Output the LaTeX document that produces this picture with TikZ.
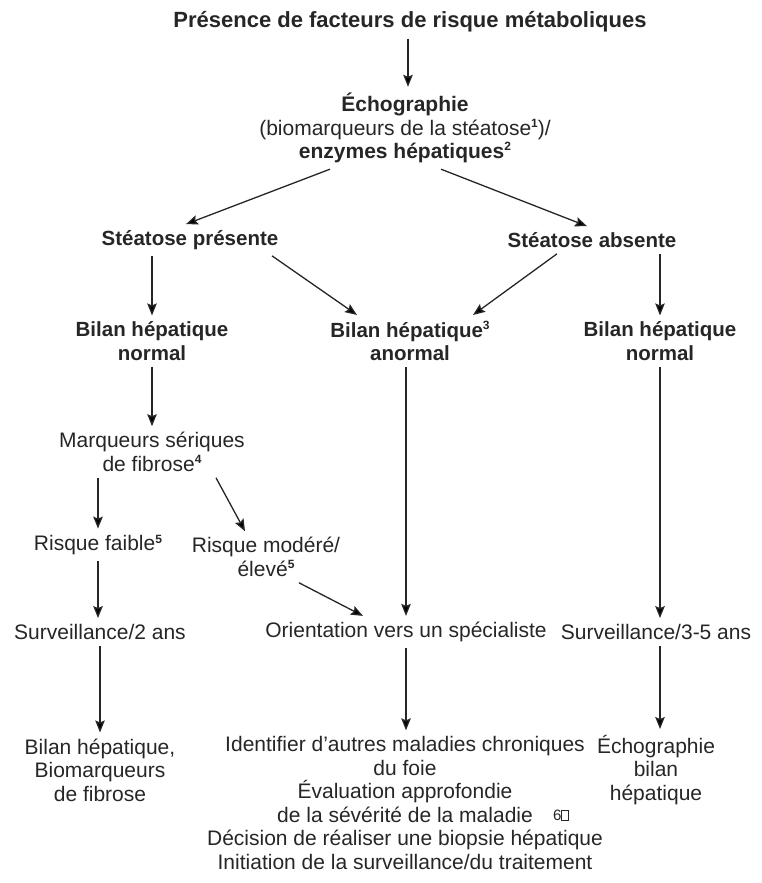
\documentclass[tikz,border=0pt]{standalone}
\usepackage{fontspec}
\setmainfont{Liberation Sans}
\usetikzlibrary{arrows.meta}
\newcommand\supr[1]{\raisebox{0.7ex}{\fontsize{12}{12}\selectfont\bfseries #1}}
\tikzset{
  txt/.style={align=center, inner xsep=1pt, inner ysep=6pt, font=\fontsize{21}{23.5}\selectfont, text=black!85},
  btxt/.style={txt, font=\fontsize{20.5}{23.5}\selectfont\bfseries},
  arr/.style={line width=1.3pt, draw=black!85, -{Stealth[length=12pt,width=9.5pt,inset=2pt]}}
}
\begin{document}
\begin{tikzpicture}[x=1pt,y=-1pt]
\useasboundingbox (0,0) rectangle (761,883);
\node[btxt, font=\fontsize{22}{24}\selectfont\bfseries] (title) at (410,22) {Présence de facteurs de risque métaboliques};
\node[txt] (echo) at (405,128) {\textbf{Échographie}\\(biomarqueurs de la stéatose\supr{1})/\\\textbf{enzymes hépatiques\supr{2}}};
\node[btxt] (sp) at (190,240) {Stéatose présente};
\node[btxt] (sa) at (592,240) {Stéatose absente};
\node[btxt] (bl1) at (152,341) {Bilan hépatique\\normal};
\node[btxt] (ba) at (410,341) {Bilan hépatique\supr{3}\\anormal};
\node[btxt] (bl2) at (660,341) {Bilan hépatique\\normal};
\node[txt] (marq) at (152,452) {Marqueurs sériques\\de fibrose\supr{4}};
\node[txt] (rf) at (98,545) {Risque faible\supr{5}};
\node[txt] (rm) at (266,557) {Risque modéré/\\élevé\supr{5}};
\node[txt] (surv2) at (100,632) {Surveillance/2 ans};
\node[txt] (orient) at (406,632) {Orientation vers un spécialiste};
\node[txt] (surv3) at (656,632) {Surveillance/3-5 ans};
\node[txt] (bot1) at (100,770) {Bilan hépatique,\\Biomarqueurs\\de fibrose};
\node[txt] (bot2) at (405,803) {Identifier d’autres maladies chroniques\\du foie\\Évaluation approfondie\\de la sévérité de la maladie\\Décision de réaliser une biopsie hépatique\\Initiation de la surveillance/du traitement};
\node[txt, font=\fontsize{15}{17}\selectfont, inner sep=0pt] (six) at (561,815) {6\raisebox{0.2pt}{\tikz[baseline=0pt]\draw[line width=0.4pt] (0,0) rectangle (7pt,10pt);}};
\node[txt] (bot3) at (656,770) {Échographie\\bilan\\hépatique};

\draw[arr] (title.south -| 408,0) -- (echo.north -| 408,0);
\draw[arr] ([xshift=-75pt]echo.south) -- ([xshift=-4pt]sp.north);
\draw[arr] ([xshift=36pt]echo.south) -- ([xshift=-5pt]sa.north);
\draw[arr] (sp.south -| bl1.north) -- (bl1.north);
\draw[arr] ([xshift=82pt]sp.south) -- ([xshift=-53pt]ba.north);
\draw[arr] ([xshift=-35pt]sa.south) -- ([xshift=63pt]ba.north);
\draw[arr] (sa.south -| bl2.north) -- (bl2.north);
\draw[arr] (bl1.south) -- (marq.north);
\draw[arr] (marq.south -| rf.north) -- (rf.north);
\draw[arr] ([xshift=64pt]marq.south) -- ([xshift=-21pt]rm.north);
\draw[arr] (rf.south) -- (rf.south |- surv2.north);
\draw[arr] ([xshift=33pt]rm.south) -- ([xshift=-43pt]orient.north);
\draw[arr] (ba.south -| orient.north) -- (orient.north);
\draw[arr] (bl2.south) -- (bl2.south |- surv3.north);
\draw[arr] (surv2.south) -- (bot1.north);
\draw[arr] (orient.south) -- (orient.south |- bot2.north);
\draw[arr] (bl2.south |- surv3.south) -- (bl2.south |- bot3.north);
\end{tikzpicture}
\end{document}
